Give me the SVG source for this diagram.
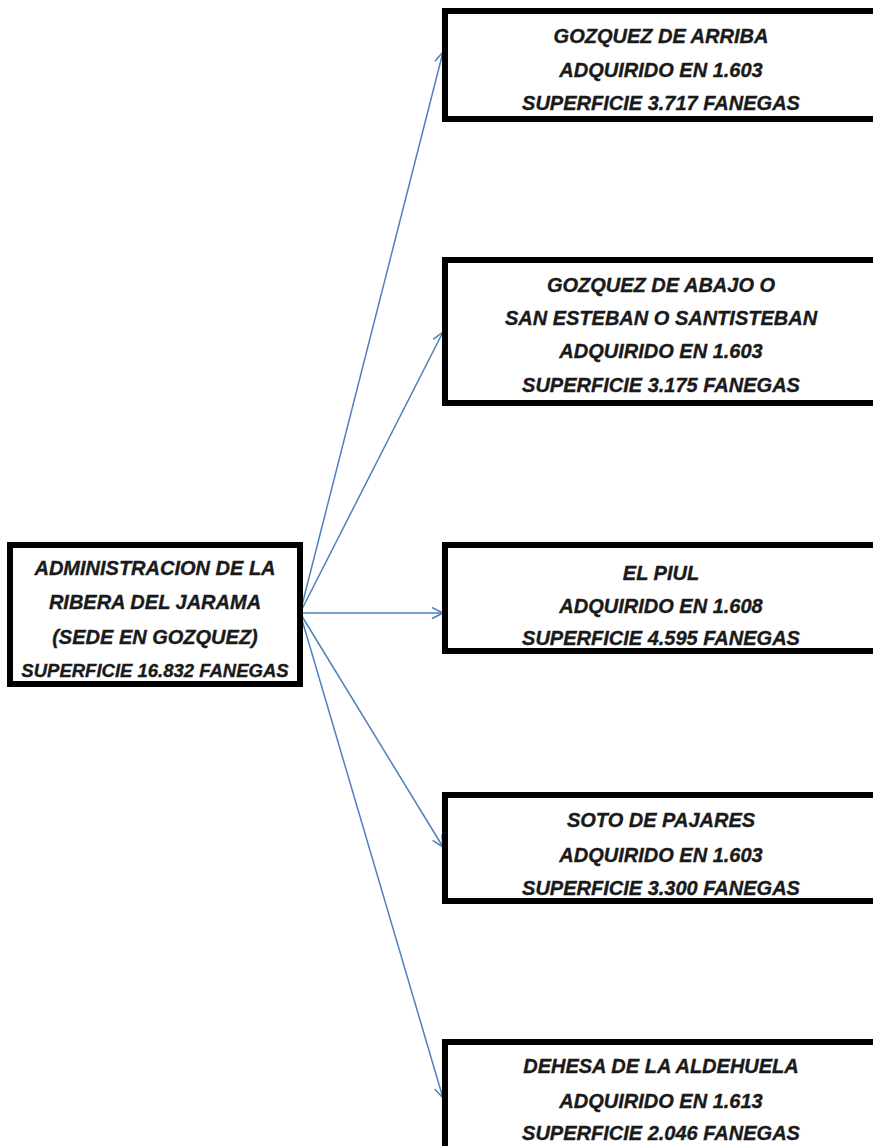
<svg xmlns="http://www.w3.org/2000/svg" width="873" height="1146" viewBox="0 0 873 1146">
<style>
.box{fill:#ffffff;stroke:#000000;stroke-width:6}
.t{font-family:"Liberation Sans",Arial,sans-serif;font-weight:bold;font-style:italic;font-size:20px;fill:#1a1a1a;stroke:#1a1a1a;stroke-width:0.35;text-anchor:middle}
.s{font-size:18.5px}
.c{fill:none;stroke:#4f7fbd;stroke-width:1.5}
</style>
<defs>
<marker id="ah" markerUnits="userSpaceOnUse" markerWidth="14" markerHeight="14" viewBox="-12 -7 14 14" refX="0" refY="0" orient="auto">
<path d="M-11,-5.5 L0,0 L-11,5.5" fill="none" stroke="#4f7fbd" stroke-width="1.5"/>
</marker>
</defs>
<rect width="873" height="1146" fill="#ffffff"/>
<g id="connectors">
<line class="c" x1="300" y1="613" x2="443" y2="52" marker-end="url(#ah)"/>
<line class="c" x1="300" y1="613" x2="443" y2="332" marker-end="url(#ah)"/>
<line class="c" x1="300" y1="613" x2="443" y2="613" marker-end="url(#ah)"/>
<line class="c" x1="300" y1="613" x2="443" y2="847" marker-end="url(#ah)"/>
<line class="c" x1="300" y1="613" x2="443" y2="1098" marker-end="url(#ah)"/>
</g>
<g id="admin">
<rect class="box" x="10" y="545" width="290" height="139"/>
<text class="t" x="155" y="575">ADMINISTRACION DE LA</text>
<text class="t" x="155" y="609">RIBERA DEL JARAMA</text>
<text class="t" x="155" y="644">(SEDE EN GOZQUEZ)</text>
<text class="t s" x="155" y="677">SUPERFICIE 16.832 FANEGAS</text>
</g>
<g id="arriba">
<rect class="box" x="445" y="11" width="440" height="108"/>
<text class="t" x="661" y="43">GOZQUEZ DE ARRIBA</text>
<text class="t" x="661" y="77">ADQUIRIDO EN 1.603</text>
<text class="t" x="661" y="110">SUPERFICIE 3.717 FANEGAS</text>
</g>
<g id="abajo">
<rect class="box" x="445" y="260" width="440" height="143"/>
<text class="t" x="661" y="292">GOZQUEZ DE ABAJO O</text>
<text class="t" x="661" y="325">SAN ESTEBAN O SANTISTEBAN</text>
<text class="t" x="661" y="358">ADQUIRIDO EN 1.603</text>
<text class="t" x="661" y="392">SUPERFICIE 3.175 FANEGAS</text>
</g>
<g id="piul">
<rect class="box" x="445" y="545" width="440" height="106"/>
<text class="t" x="661" y="580">EL PIUL</text>
<text class="t" x="661" y="613">ADQUIRIDO EN 1.608</text>
<text class="t" x="661" y="645">SUPERFICIE 4.595 FANEGAS</text>
</g>
<g id="soto">
<rect class="box" x="445" y="795" width="440" height="106"/>
<text class="t" x="661" y="827">SOTO DE PAJARES</text>
<text class="t" x="661" y="862">ADQUIRIDO EN 1.603</text>
<text class="t" x="661" y="895">SUPERFICIE 3.300 FANEGAS</text>
</g>
<g id="dehesa">
<rect class="box" x="445" y="1042" width="440" height="120"/>
<text class="t" x="661" y="1073">DEHESA DE LA ALDEHUELA</text>
<text class="t" x="661" y="1108">ADQUIRIDO EN 1.613</text>
<text class="t" x="661" y="1140">SUPERFICIE 2.046 FANEGAS</text>
</g>
</svg>
